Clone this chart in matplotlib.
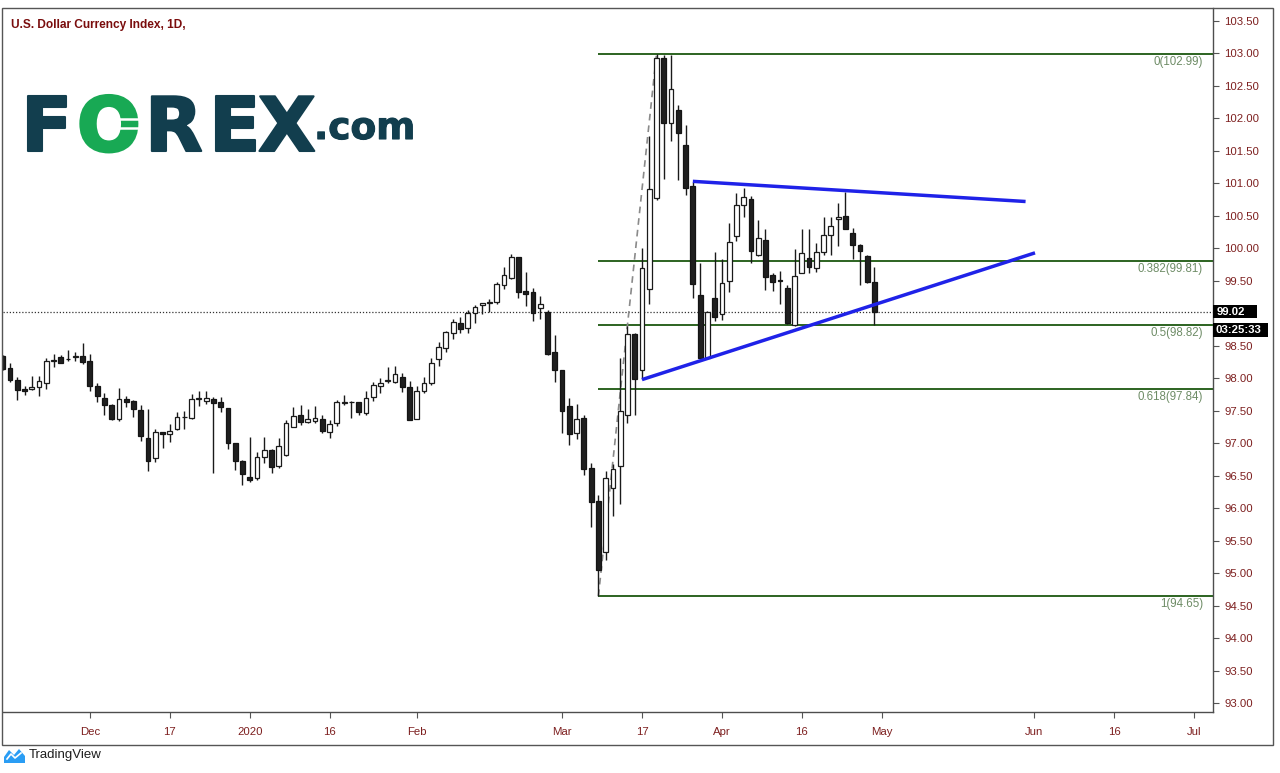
import numpy as np
import pandas as pd
import matplotlib
matplotlib.use("Agg")
import matplotlib.pyplot as plt
import matplotlib.patheffects as pe
from matplotlib.patches import Rectangle, Polygon
from matplotlib.lines import Line2D

# ---------------- data ----------------
title = "U.S. Dollar Currency Index, 1D,"
start_date = "2019-11-14"

opens = [98.34, 98.16, 97.98, 97.83, 97.835, 97.86, 97.92, 98.27, 98.33, 98.30,
         98.32, 98.34, 98.266, 97.88, 97.70, 97.59, 97.37, 97.68, 97.65, 97.51,
         97.087, 96.78, 97.17, 97.14, 97.225, 97.40, 97.395, 97.68, 97.645, 97.677,
         97.63, 97.538, 97.01, 96.733, 96.487, 96.46, 96.79, 96.897, 96.65, 96.82,
         97.256, 97.436, 97.333, 97.35, 97.374, 97.179, 97.307, 97.625, 97.635, 97.63,
         97.472, 97.718, 97.882, 97.955, 97.949, 98.025, 97.872, 97.369, 97.81, 97.933,
         98.292, 98.461, 98.702, 98.856, 98.769, 99.0, 99.128, 99.16, 99.179, 99.436,
         99.538, 99.861, 99.349, 99.323, 99.077, 99.025, 98.41, 98.128, 97.574, 97.164,
         97.385, 96.615, 96.107, 95.33, 96.316, 96.645, 97.437, 98.689, 98.128, 99.378,
         100.78, 102.935, 101.934, 102.127, 101.594, 100.956, 99.285, 98.316, 99.24, 98.99,
         99.504, 100.186, 100.667, 100.754, 99.897, 100.128, 99.59, 99.51, 99.385, 98.82,
         99.626, 99.856, 99.703, 99.949, 100.205, 100.446, 100.497, 100.241, 100.051, 99.882,
         99.477]
highs = [98.36, 98.23, 98.02, 97.88, 98.035, 98.04, 98.31, 98.38, 98.36, 98.43,
         98.41, 98.54, 98.37, 97.93, 97.78, 97.60, 97.845, 97.73, 97.665, 97.59,
         97.52, 97.225, 97.18, 97.29, 97.48, 97.49, 97.76, 97.80, 97.805, 97.718,
         97.707, 97.54, 97.01, 96.74, 97.102, 96.87, 97.10, 96.907, 97.077, 97.359,
         97.564, 97.59, 97.523, 97.574, 97.436, 97.359, 97.667, 97.744, 97.656, 97.64,
         97.805, 97.949, 98.0, 98.169, 98.189, 98.077, 97.964, 97.882, 98.015, 98.307,
         98.564, 98.733, 98.907, 98.948, 99.05, 99.128, 99.164, 99.215, 99.487, 99.718,
         99.913, 99.872, 99.64, 99.385, 99.267, 99.05, 98.667, 98.128, 97.692, 97.605,
         97.436, 96.702, 96.2, 96.58, 96.685, 98.306, 98.80, 98.69, 100.01, 101.725,
         102.99, 102.98, 102.98, 102.2, 101.89, 101.027, 99.78, 99.03, 99.95, 99.837,
         100.395, 100.846, 100.923, 100.805, 100.436, 100.292, 99.626, 99.656, 99.436, 99.984,
         100.292, 100.292, 100.077, 100.477, 100.477, 100.692, 100.872, 100.31, 100.067, 99.897,
         99.718]
lows = [98.12, 97.95, 97.67, 97.74, 97.82, 97.72, 97.83, 98.18, 98.23, 98.27,
        98.26, 98.215, 97.805, 97.64, 97.435, 97.36, 97.35, 97.553, 97.40, 97.035,
        96.58, 96.71, 96.92, 97.015, 97.205, 97.215, 97.37, 97.58, 97.605, 96.538,
        97.487, 96.907, 96.59, 96.36, 96.41, 96.436, 96.70, 96.548, 96.615, 96.805,
        97.256, 97.282, 97.307, 97.318, 97.154, 97.077, 97.267, 97.59, 97.384, 97.436,
        97.436, 97.656, 97.779, 97.923, 97.933, 97.795, 97.359, 97.369, 97.779, 97.897,
        98.19, 98.41, 98.6, 98.702, 98.692, 98.856, 98.99, 99.026, 99.143, 99.369,
        99.523, 99.231, 99.113, 98.887, 98.907, 98.36, 97.948, 97.164, 96.974, 97.061,
        96.513, 95.708, 94.65, 95.21, 95.887, 96.063, 97.316, 97.43, 97.987, 99.142,
        100.75, 101.066, 101.648, 101.044, 100.82, 99.23, 98.295, 98.295, 98.88, 98.9,
        99.323, 100.12, 100.487, 99.769, 99.882, 99.359, 99.349, 99.144, 98.836, 98.805,
        99.615, 99.615, 99.641, 99.897, 99.897, 100.036, 100.29, 99.831, 99.436, 99.461,
        98.82]
closes = [98.14, 97.98, 97.82, 97.81, 97.87, 97.96, 98.26, 98.28, 98.24, 98.29,
          98.34, 98.256, 97.88, 97.728, 97.59, 97.37, 97.676, 97.635, 97.52, 97.11,
          96.73, 97.17, 97.14, 97.195, 97.40, 97.405, 97.676, 97.685, 97.697, 97.625,
          97.553, 97.0, 96.733, 96.523, 96.436, 96.794, 96.897, 96.63, 96.958, 97.307,
          97.42, 97.333, 97.369, 97.385, 97.195, 97.297, 97.63, 97.63, 97.63, 97.487,
          97.692, 97.897, 97.933, 97.96, 98.066, 97.861, 97.359, 97.81, 97.933, 98.241,
          98.477, 98.708, 98.861, 98.754, 99.01, 99.092, 99.164, 99.165, 99.451, 99.59,
          99.872, 99.333, 99.297, 99.0, 99.144, 98.374, 98.128, 97.502, 97.138, 97.369,
          96.6, 96.102, 95.05, 96.47, 96.60, 97.493, 98.689, 97.987, 99.697, 100.917,
          102.935, 101.934, 102.457, 101.77, 100.93, 99.449, 98.306, 99.02, 98.937, 99.46,
          100.09, 100.67, 100.795, 99.964, 100.154, 99.554, 99.487, 99.50, 98.846, 99.574,
          99.933, 99.718, 99.949, 100.205, 100.344, 100.477, 100.292, 100.051, 99.964, 99.487,
          99.026]

tick_dates = ["2019-12-02", "2019-12-17", "2020-01-01", "2020-01-16", "2020-02-03",
              "2020-03-02", "2020-03-17", "2020-04-01", "2020-04-16", "2020-05-01",
              "2020-06-01", "2020-06-16", "2020-07-01"]
tick_labels = ["Dec", "17", "2020", "16", "Feb", "Mar", "17", "Apr", "16", "May",
               "Jun", "16", "Jul"]

y_ticks = [93.0, 93.5, 94.0, 94.5, 95.0, 95.5, 96.0, 96.5, 97.0, 97.5, 98.0, 98.5,
           99.0, 99.5, 100.0, 100.5, 101.0, 101.5, 102.0, 102.5, 103.0, 103.5]

fib_ratios = ["0", "0.382", "0.5", "0.618", "1"]
fib_prices = [102.99, 99.81, 98.82, 97.84, 94.65]
fib_low_date = "2020-03-09"
fib_high_date = "2020-03-19"

upper_trend_x = [95.0, 140.8]
upper_trend_y = [101.03, 100.72]
lower_trend_x = [88.0, 142.1]
lower_trend_y = [97.98, 99.93]

last_price = 99.02
countdown = "03:25:33"

# ---------------- figure ----------------
plt.rcParams['font.family'] = ['Liberation Sans', 'DejaVu Sans']
W, H = 1280, 773
fig = plt.figure(figsize=(W / 100, H / 100), dpi=100)
fig.patch.set_facecolor('white')

def fx(px):
    return px / W

def fy(py):
    return 1 - py / H

ax = fig.add_axes([fx(3), fy(712), (1213 - 3) / W, (712 - 8) / H])
ax.set_facecolor('white')

all_days = pd.bdate_range(start_date, "2020-07-31")
day_index = {d: i for i, d in enumerate(all_days)}
n = len(opens)
xs = np.arange(n)
o = np.array(opens); h = np.array(highs); l = np.array(lows); c = np.array(closes)
up = c >= o

# wicks
ax.vlines(xs, l, h, color='#1a1a1a', lw=1.0, zorder=3)
# bodies
bottoms = np.minimum(o, c)
heights = np.maximum(np.abs(c - o), 0.012)
ax.bar(xs[up], heights[up], bottom=bottoms[up], width=0.66, color='white',
       edgecolor='#1a1a1a', linewidth=0.9, zorder=4)
ax.bar(xs[~up], heights[~up], bottom=bottoms[~up], width=0.66, color='#1f1f1f',
       edgecolor='#141414', linewidth=0.9, zorder=4)

xmin, xmax = 0.04, 166.6
ax.set_xlim(xmin, xmax)
ax.set_ylim(92.866, 103.697)

# Fibonacci retracement
fib_x0 = day_index[pd.Timestamp(fib_low_date)]
fib_x1 = day_index[pd.Timestamp(fib_high_date)]
for r, p in zip(fib_ratios, fib_prices):
    ax.plot([fib_x0, xmax], [p, p], color='#2c6320', lw=1.4, zorder=2,
            solid_capstyle='butt')
    ax.annotate(f"{r}({p:.2f})", xy=(1.0, p), xycoords=('axes fraction', 'data'),
                xytext=(-10, -8), textcoords='offset pixels', ha='right',
                va='center', fontsize=8.3, color='#6e8c66')
ax.plot([fib_x0, fib_x1], [fib_prices[-1], fib_prices[0]], color='#8a8a8a',
        lw=1.2, ls=(0, (4, 3)), zorder=2)

# trend lines
ax.plot(upper_trend_x, upper_trend_y, color='#1f22e8', lw=2.5, zorder=5,
        solid_capstyle='butt')
ax.plot(lower_trend_x, lower_trend_y, color='#1f22e8', lw=2.5, zorder=5,
        solid_capstyle='butt')

# last price line
ax.axhline(last_price, color='#333333', lw=0.9, ls=(0, (1, 1.5)), zorder=1)

# axes styling
for s in ['top', 'left']:
    ax.spines[s].set_visible(False)
for s in ['right', 'bottom']:
    ax.spines[s].set_color('#4d4d4d')
    ax.spines[s].set_linewidth(1.0)

ax.yaxis.tick_right()
ax.set_yticks(y_ticks)
# the 99.00 label is hidden behind the last-price box in the original
ax.set_yticklabels(["" if abs(v - last_price) < 0.1 else f"{v:.2f}" for v in y_ticks])
ax.tick_params(axis='y', length=4, width=0.8, color='#555555', pad=4,
               labelsize=8.2, labelcolor='#7d1f1f')
tick_pos = [day_index[pd.Timestamp(d)] for d in tick_dates]
ax.set_xticks(tick_pos)
ax.set_xticklabels(tick_labels)
ax.tick_params(axis='x', length=4, width=0.8, color='#555555', pad=7,
               labelsize=8.2, labelcolor='#7d1f1f')

# outer frame
fig.add_artist(Rectangle((fx(2), fy(745)), (1273 - 2) / W, (745 - 8) / H,
                         transform=fig.transFigure, fill=False,
                         edgecolor='#555555', lw=1.0))

# price labels
fig.add_artist(Rectangle((fx(1213), fy(318)), 44 / W, 13 / H,
                         transform=fig.transFigure, facecolor='black',
                         edgecolor='none'))
fig.text(fx(1217), fy(311.5), f"{last_price:.2f}", color='white', fontsize=8.2,
         fontweight='bold', ha='left', va='center')
fig.add_artist(Rectangle((fx(1213), fy(337)), 55 / W, 14 / H,
                         transform=fig.transFigure, facecolor='black',
                         edgecolor='none'))
fig.text(fx(1216), fy(330), countdown, color='white', fontsize=8.2,
         fontweight='bold', ha='left', va='center')

# title
fig.text(fx(11), fy(25), title, color='#7a0d0d', fontsize=8.6, fontweight='bold',
         ha='left', va='center')

# FOREX.com logo
teal = '#123e4e'
green = '#18a954'

def logo_letter(px, py, s, size, color, stroke):
    t = fig.text(fx(px), fy(py), s, fontsize=size, color=color,
                 family='DejaVu Sans', fontweight='bold', va='baseline', ha='left')
    t.set_path_effects([pe.withStroke(linewidth=stroke, foreground=color)])
    return t

logo_letter(21, 151, "F", 54, teal, 1.5)
logo_letter(77, 151, "O", 54, green, 2.0)
logo_letter(145, 151, "R", 54, teal, 1.5)
logo_letter(209, 151, "E", 54, teal, 1.5)
logo_letter(258, 151, "X", 54, teal, 1.5)
logo_letter(314, 139, ".com", 27, teal, 0.8)
# white "=" marks across the green O
for yy in (118.5, 128.0):
    fig.add_artist(Line2D([fx(112), fx(142)], [fy(yy), fy(yy)],
                          transform=fig.transFigure, color='white', lw=1.8,
                          zorder=10))

# TradingView footer
icon = Polygon([[fx(4), fy(763)], [fx(4), fy(757)], [fx(9), fy(750)],
                [fx(14), fy(755)], [fx(19), fy(749)], [fx(25), fy(756)],
                [fx(25), fy(763)]], closed=True, transform=fig.transFigure,
               facecolor='#2a9df4', edgecolor='none')
fig.add_artist(icon)
fig.add_artist(Line2D([fx(7), fx(11), fx(15), fx(21)],
                      [fy(759), fy(754), fy(758), fy(753)],
                      transform=fig.transFigure, color='white', lw=1.2,
                      zorder=10))
fig.text(fx(29), fy(755), "TradingView", color='#1e1e1e', fontsize=9.5,
         ha='left', va='center')

fig.savefig('out.png', dpi=100)
